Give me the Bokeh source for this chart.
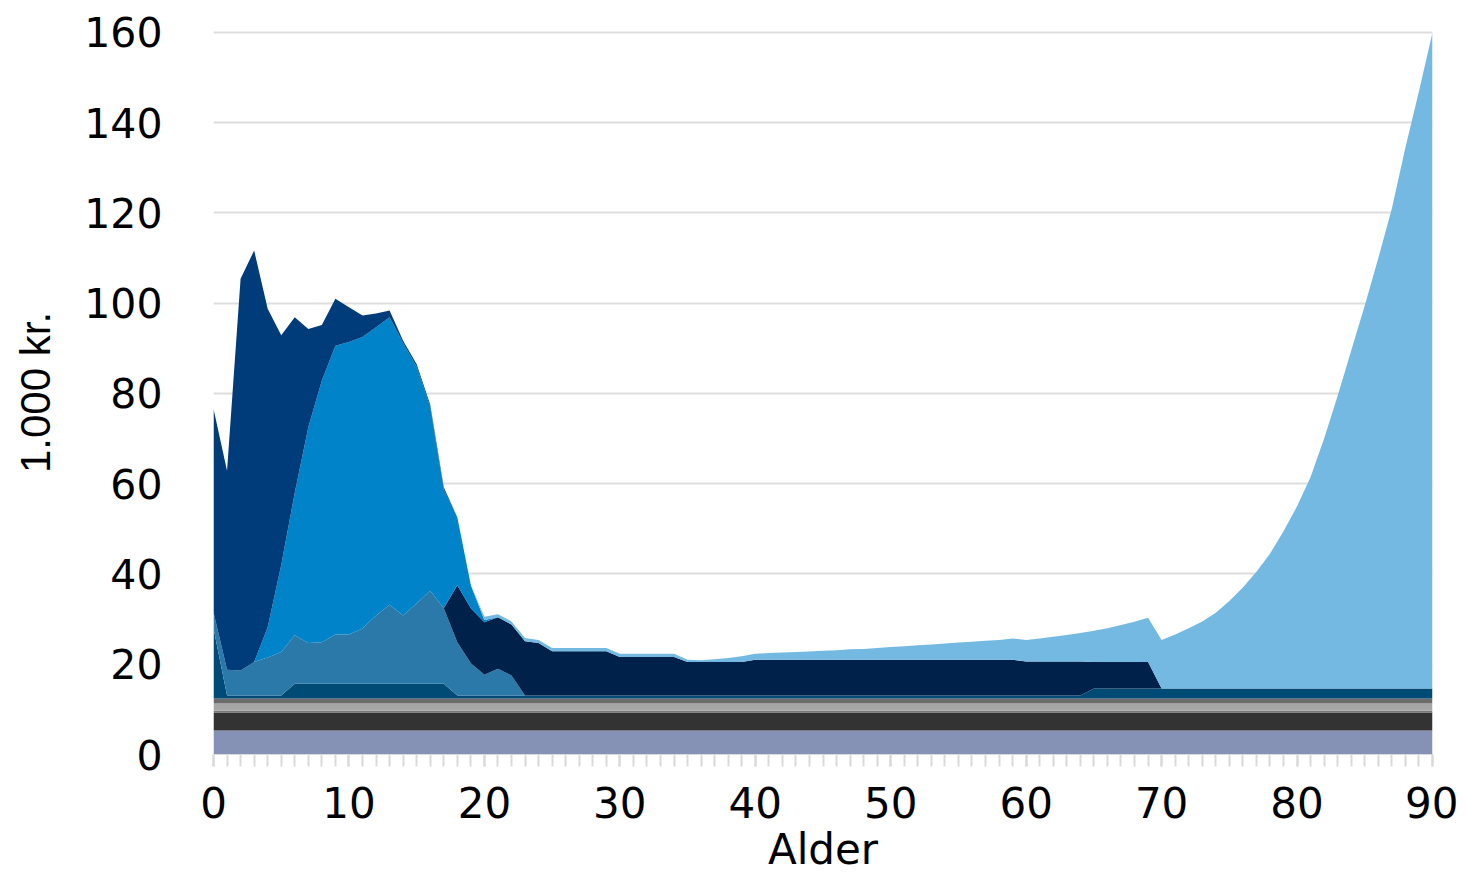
from bokeh.plotting import figure
from bokeh.models import ColumnDataSource, Range1d, FixedTicker
from bokeh.embed import file_html
from bokeh.resources import INLINE

# ---------------- data (1.000 kr. per person by age) ----------------
ages = list(range(0, 91))
n = len(ages)

# flat bottom bands
lavender = [5.3] * n
dark_grey = [4.0] * n
thin_grey = [0.4] * n
light_grey = [1.6] * n
mid_grey = [1.1] * n

# dark teal band
dark_teal = ([15.6] + [0.7] * 5 + [3.3] * 12 + [0.7] * 47 + [2.2] * 26)

# steel blue (children / youth)
steel = ([3.5, 5.7, 5.5, 7.4, 8.4, 9.6, 10.7, 9.0, 9.2, 10.9, 10.9, 12.2,
          15.1, 17.5, 15.1, 17.8, 20.6, 16.7, 11.8, 7.1, 4.6, 5.9, 4.4]
         + [0.0] * 68)

# very dark navy (working-age)
deep_navy = ([0.0] * 18
             + [12.6, 12.2, 11.6, 11.4, 11.3, 12.0, 11.6]
             + [9.8] * 5 + [8.5] * 5 + [7.4] * 5 + [7.9] * 20
             + [7.5] * 5 + [5.9] * 5 + [0.0] * 21)

# bright blue (school age)
bright = ([0.0] * 4
          + [6.7, 19.3, 31.6, 47.8, 58.0, 64.0, 64.8, 64.6, 63.9, 63.7,
             60.4, 52.5, 40.7, 26.3, 15.1, 5.1, 0.5]
          + [0.0] * 70)

# dark navy (early childhood)
navy = ([45.1, 44.1, 86.8, 91.2, 70.6, 50.9, 38.9, 21.8, 12.3, 10.4, 7.7,
         4.8, 3.0, 1.5, 0.5, 0.5, 0.5, 0.5]
        + [0.0] * 73)

# sky blue (elderly)
sky = ([0.0] * 20 + [0.7] * 15
       + [0.5, 0.4, 0.6, 0.9, 1.3, 1.3, 1.5, 1.6, 1.7, 1.8, 2.0, 2.1, 2.3,
          2.4, 2.6, 2.8, 3.0, 3.2, 3.4, 3.6, 3.8, 4.0, 4.2, 4.4, 4.7, 4.8,
          5.1, 5.5, 5.9, 6.3, 6.9, 7.5, 8.2, 8.9, 9.8]
       + [10.8, 12.0, 13.4, 14.9, 16.8, 19.4, 22.4, 25.9, 29.9, 34.9, 40.4,
          46.9, 55.4, 64.9, 74.9, 84.9, 95.4, 106.4, 119.9, 132.4, 145.4])

x_ticks = list(range(0, 91, 10))
y_ticks = list(range(0, 161, 20))

names = ["lavender", "dark_grey", "thin_grey", "light_grey", "mid_grey",
         "dark_teal", "steel", "deep_navy", "bright", "navy", "sky"]
colors = ["#8591B5", "#333333", "#777777", "#A6A6A6", "#6B6B6B",
          "#004A76", "#2A79A9", "#00224A", "#0083C8", "#003B7A", "#73B9E1"]

source = ColumnDataSource(dict(
    age=ages, lavender=lavender, dark_grey=dark_grey, thin_grey=thin_grey,
    light_grey=light_grey, mid_grey=mid_grey, dark_teal=dark_teal,
    steel=steel, deep_navy=deep_navy, bright=bright, navy=navy, sky=sky))

p = figure(frame_width=1219, frame_height=724,
           x_range=Range1d(0, 90), y_range=Range1d(0, 160.44),
           output_backend="svg", toolbar_location=None,
           min_border_left=213, min_border_right=26, min_border_top=30,
           min_border_bottom=0)
p.outline_line_color = None
p.background_fill_color = "white"

p.varea_stack(stackers=names, x="age", color=colors, source=source)

# grid
p.xgrid.grid_line_color = None
p.ygrid.grid_line_color = "#DDDDDD"
p.ygrid.grid_line_width = 2
p.ygrid.ticker = FixedTicker(ticks=y_ticks)

# x axis
xa = p.xaxis[0]
xa.ticker = FixedTicker(ticks=x_ticks, minor_ticks=ages)
xa.axis_line_color = "#D9D9D9"
xa.major_tick_line_color = "#D9D9D9"
xa.minor_tick_line_color = "#D9D9D9"
xa.major_tick_line_width = 2
xa.minor_tick_line_width = 2
xa.major_tick_in = 0
xa.major_tick_out = 12
xa.minor_tick_in = 0
xa.minor_tick_out = 12
xa.major_label_standoff = 20
xa.major_label_text_font = "DejaVu Sans"
xa.major_label_text_font_size = "42px"
xa.major_label_text_color = "#000000"
xa.axis_label = "Alder"
xa.axis_label_standoff = 4
xa.axis_label_text_font = "DejaVu Sans"
xa.axis_label_text_font_size = "42px"
xa.axis_label_text_font_style = "normal"
xa.axis_label_text_color = "#000000"

# y axis
ya = p.yaxis[0]
ya.ticker = FixedTicker(ticks=y_ticks)
ya.axis_line_color = None
ya.major_tick_line_color = None
ya.minor_tick_line_color = None
ya.major_tick_in = 0
ya.major_tick_out = 0
ya.major_label_standoff = 51
ya.major_label_text_font = "DejaVu Sans"
ya.major_label_text_font_size = "41px"
ya.major_label_text_color = "#000000"
ya.axis_label = "1.000 kr."
ya.axis_label_standoff = 22
ya.axis_label_text_font = "Liberation Sans"
ya.axis_label_text_font_size = "42px"
ya.axis_label_text_font_style = "normal"
ya.axis_label_text_color = "#000000"

open("out.html", "w").write(file_html(p, INLINE))
